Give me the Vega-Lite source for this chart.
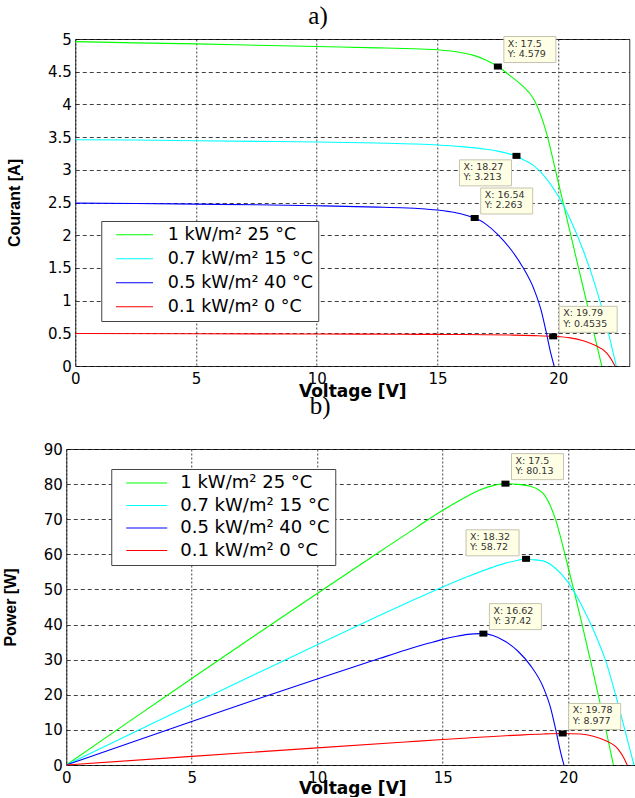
{
  "$schema": "https://vega.github.io/schema/vega-lite/v6.json",
  "background": "white",
  "padding": {"left": 1, "top": 3, "right": 0, "bottom": 0},
  "spacing": -7,
  "center": true,
  "resolve": {"scale": {"x": "independent", "y": "independent", "color": "independent"}, "legend": {"color": "independent"}},
  "datasets": {
    "iv": [
      {"S": "1 kW/m² 25 °C", "V": 0, "I": 4.96}, {"S": "1 kW/m² 25 °C", "V": 2.5, "I": 4.94}, {"S": "1 kW/m² 25 °C", "V": 5, "I": 4.925}, {"S": "1 kW/m² 25 °C", "V": 7.5, "I": 4.905}, {"S": "1 kW/m² 25 °C", "V": 10, "I": 4.885}, {"S": "1 kW/m² 25 °C", "V": 12.5, "I": 4.865}, {"S": "1 kW/m² 25 °C", "V": 14, "I": 4.85}, {"S": "1 kW/m² 25 °C", "V": 15, "I": 4.835}, {"S": "1 kW/m² 25 °C", "V": 16, "I": 4.79}, {"S": "1 kW/m² 25 °C", "V": 16.5, "I": 4.75}, {"S": "1 kW/m² 25 °C", "V": 17, "I": 4.68}, {"S": "1 kW/m² 25 °C", "V": 17.5, "I": 4.579}, {"S": "1 kW/m² 25 °C", "V": 18, "I": 4.44}, {"S": "1 kW/m² 25 °C", "V": 18.5, "I": 4.29}, {"S": "1 kW/m² 25 °C", "V": 19, "I": 4.07}, {"S": "1 kW/m² 25 °C", "V": 19.5, "I": 3.58}, {"S": "1 kW/m² 25 °C", "V": 19.9, "I": 2.97}, {"S": "1 kW/m² 25 °C", "V": 20.25, "I": 2.42}, {"S": "1 kW/m² 25 °C", "V": 20.5, "I": 2.03}, {"S": "1 kW/m² 25 °C", "V": 21, "I": 1.25}, {"S": "1 kW/m² 25 °C", "V": 21.5, "I": 0.47}, {"S": "1 kW/m² 25 °C", "V": 21.8, "I": 0},
      {"S": "0.7 kW/m² 15 °C", "V": 0, "I": 3.46}, {"S": "0.7 kW/m² 15 °C", "V": 2.5, "I": 3.455}, {"S": "0.7 kW/m² 15 °C", "V": 5, "I": 3.445}, {"S": "0.7 kW/m² 15 °C", "V": 7.5, "I": 3.435}, {"S": "0.7 kW/m² 15 °C", "V": 10, "I": 3.425}, {"S": "0.7 kW/m² 15 °C", "V": 12.5, "I": 3.41}, {"S": "0.7 kW/m² 15 °C", "V": 14, "I": 3.395}, {"S": "0.7 kW/m² 15 °C", "V": 15, "I": 3.38}, {"S": "0.7 kW/m² 15 °C", "V": 16, "I": 3.355}, {"S": "0.7 kW/m² 15 °C", "V": 17, "I": 3.315}, {"S": "0.7 kW/m² 15 °C", "V": 17.5, "I": 3.285}, {"S": "0.7 kW/m² 15 °C", "V": 18, "I": 3.24}, {"S": "0.7 kW/m² 15 °C", "V": 18.27, "I": 3.213}, {"S": "0.7 kW/m² 15 °C", "V": 18.32, "I": 3.205}, {"S": "0.7 kW/m² 15 °C", "V": 18.5, "I": 3.165}, {"S": "0.7 kW/m² 15 °C", "V": 19, "I": 3.06}, {"S": "0.7 kW/m² 15 °C", "V": 19.5, "I": 2.87}, {"S": "0.7 kW/m² 15 °C", "V": 20, "I": 2.6}, {"S": "0.7 kW/m² 15 °C", "V": 20.5, "I": 2.24}, {"S": "0.7 kW/m² 15 °C", "V": 21, "I": 1.8}, {"S": "0.7 kW/m² 15 °C", "V": 21.5, "I": 1.27}, {"S": "0.7 kW/m² 15 °C", "V": 22, "I": 0.62}, {"S": "0.7 kW/m² 15 °C", "V": 22.4, "I": 0},
      {"S": "0.5 kW/m² 40 °C", "V": 0, "I": 2.49}, {"S": "0.5 kW/m² 40 °C", "V": 2.5, "I": 2.485}, {"S": "0.5 kW/m² 40 °C", "V": 5, "I": 2.475}, {"S": "0.5 kW/m² 40 °C", "V": 7.5, "I": 2.465}, {"S": "0.5 kW/m² 40 °C", "V": 10, "I": 2.45}, {"S": "0.5 kW/m² 40 °C", "V": 12.5, "I": 2.43}, {"S": "0.5 kW/m² 40 °C", "V": 13.5, "I": 2.42}, {"S": "0.5 kW/m² 40 °C", "V": 14.5, "I": 2.4}, {"S": "0.5 kW/m² 40 °C", "V": 15, "I": 2.385}, {"S": "0.5 kW/m² 40 °C", "V": 15.5, "I": 2.36}, {"S": "0.5 kW/m² 40 °C", "V": 16, "I": 2.325}, {"S": "0.5 kW/m² 40 °C", "V": 16.54, "I": 2.262}, {"S": "0.5 kW/m² 40 °C", "V": 16.62, "I": 2.25}, {"S": "0.5 kW/m² 40 °C", "V": 17, "I": 2.17}, {"S": "0.5 kW/m² 40 °C", "V": 17.5, "I": 2.01}, {"S": "0.5 kW/m² 40 °C", "V": 18, "I": 1.8}, {"S": "0.5 kW/m² 40 °C", "V": 18.5, "I": 1.53}, {"S": "0.5 kW/m² 40 °C", "V": 19, "I": 1.17}, {"S": "0.5 kW/m² 40 °C", "V": 19.3, "I": 0.84}, {"S": "0.5 kW/m² 40 °C", "V": 19.5, "I": 0.52}, {"S": "0.5 kW/m² 40 °C", "V": 19.7, "I": 0.18}, {"S": "0.5 kW/m² 40 °C", "V": 19.83, "I": 0},
      {"S": "0.1 kW/m² 0 °C", "V": 0, "I": 0.497}, {"S": "0.1 kW/m² 0 °C", "V": 5, "I": 0.494}, {"S": "0.1 kW/m² 0 °C", "V": 10, "I": 0.489}, {"S": "0.1 kW/m² 0 °C", "V": 13.5, "I": 0.485}, {"S": "0.1 kW/m² 0 °C", "V": 15, "I": 0.483}, {"S": "0.1 kW/m² 0 °C", "V": 16, "I": 0.481}, {"S": "0.1 kW/m² 0 °C", "V": 17, "I": 0.478}, {"S": "0.1 kW/m² 0 °C", "V": 18, "I": 0.473}, {"S": "0.1 kW/m² 0 °C", "V": 19, "I": 0.465}, {"S": "0.1 kW/m² 0 °C", "V": 19.79, "I": 0.4535}, {"S": "0.1 kW/m² 0 °C", "V": 20.5, "I": 0.43}, {"S": "0.1 kW/m² 0 °C", "V": 21, "I": 0.39}, {"S": "0.1 kW/m² 0 °C", "V": 21.5, "I": 0.32}, {"S": "0.1 kW/m² 0 °C", "V": 22, "I": 0.2}, {"S": "0.1 kW/m² 0 °C", "V": 22.2, "I": 0.1}, {"S": "0.1 kW/m² 0 °C", "V": 22.35, "I": 0}
    ],
    "pv": [
      {"S": "1 kW/m² 25 °C", "V": 0, "P": 0}, {"S": "1 kW/m² 25 °C", "V": 2.5, "P": 12.35}, {"S": "1 kW/m² 25 °C", "V": 5, "P": 24.63}, {"S": "1 kW/m² 25 °C", "V": 7.5, "P": 36.79}, {"S": "1 kW/m² 25 °C", "V": 10, "P": 48.85}, {"S": "1 kW/m² 25 °C", "V": 12.5, "P": 60.81}, {"S": "1 kW/m² 25 °C", "V": 14, "P": 67.9}, {"S": "1 kW/m² 25 °C", "V": 15, "P": 72.53}, {"S": "1 kW/m² 25 °C", "V": 16, "P": 76.64}, {"S": "1 kW/m² 25 °C", "V": 16.5, "P": 78.38}, {"S": "1 kW/m² 25 °C", "V": 17, "P": 79.56}, {"S": "1 kW/m² 25 °C", "V": 17.5, "P": 80.13}, {"S": "1 kW/m² 25 °C", "V": 18, "P": 79.92}, {"S": "1 kW/m² 25 °C", "V": 18.5, "P": 79.37}, {"S": "1 kW/m² 25 °C", "V": 19, "P": 77.33}, {"S": "1 kW/m² 25 °C", "V": 19.5, "P": 69.81}, {"S": "1 kW/m² 25 °C", "V": 19.9, "P": 59.1}, {"S": "1 kW/m² 25 °C", "V": 20.25, "P": 49.01}, {"S": "1 kW/m² 25 °C", "V": 20.5, "P": 41.62}, {"S": "1 kW/m² 25 °C", "V": 21, "P": 26.25}, {"S": "1 kW/m² 25 °C", "V": 21.5, "P": 10.11}, {"S": "1 kW/m² 25 °C", "V": 21.8, "P": 0},
      {"S": "0.7 kW/m² 15 °C", "V": 0, "P": 0}, {"S": "0.7 kW/m² 15 °C", "V": 2.5, "P": 8.64}, {"S": "0.7 kW/m² 15 °C", "V": 5, "P": 17.23}, {"S": "0.7 kW/m² 15 °C", "V": 7.5, "P": 25.76}, {"S": "0.7 kW/m² 15 °C", "V": 10, "P": 34.25}, {"S": "0.7 kW/m² 15 °C", "V": 12.5, "P": 42.63}, {"S": "0.7 kW/m² 15 °C", "V": 14, "P": 47.53}, {"S": "0.7 kW/m² 15 °C", "V": 15, "P": 50.7}, {"S": "0.7 kW/m² 15 °C", "V": 16, "P": 53.68}, {"S": "0.7 kW/m² 15 °C", "V": 17, "P": 56.36}, {"S": "0.7 kW/m² 15 °C", "V": 17.5, "P": 57.49}, {"S": "0.7 kW/m² 15 °C", "V": 18, "P": 58.32}, {"S": "0.7 kW/m² 15 °C", "V": 18.27, "P": 58.7}, {"S": "0.7 kW/m² 15 °C", "V": 18.32, "P": 58.72}, {"S": "0.7 kW/m² 15 °C", "V": 18.5, "P": 58.55}, {"S": "0.7 kW/m² 15 °C", "V": 19, "P": 58.14}, {"S": "0.7 kW/m² 15 °C", "V": 19.5, "P": 55.97}, {"S": "0.7 kW/m² 15 °C", "V": 20, "P": 52.0}, {"S": "0.7 kW/m² 15 °C", "V": 20.5, "P": 45.92}, {"S": "0.7 kW/m² 15 °C", "V": 21, "P": 38.5}, {"S": "0.7 kW/m² 15 °C", "V": 21.5, "P": 29.5}, {"S": "0.7 kW/m² 15 °C", "V": 22, "P": 17.0}, {"S": "0.7 kW/m² 15 °C", "V": 22.4, "P": 6.0}, {"S": "0.7 kW/m² 15 °C", "V": 22.62, "P": 0},
      {"S": "0.5 kW/m² 40 °C", "V": 0, "P": 0}, {"S": "0.5 kW/m² 40 °C", "V": 2.5, "P": 6.21}, {"S": "0.5 kW/m² 40 °C", "V": 5, "P": 12.38}, {"S": "0.5 kW/m² 40 °C", "V": 7.5, "P": 18.49}, {"S": "0.5 kW/m² 40 °C", "V": 10, "P": 24.5}, {"S": "0.5 kW/m² 40 °C", "V": 12.5, "P": 30.38}, {"S": "0.5 kW/m² 40 °C", "V": 13.5, "P": 32.67}, {"S": "0.5 kW/m² 40 °C", "V": 14.5, "P": 34.8}, {"S": "0.5 kW/m² 40 °C", "V": 15, "P": 35.78}, {"S": "0.5 kW/m² 40 °C", "V": 15.5, "P": 36.58}, {"S": "0.5 kW/m² 40 °C", "V": 16, "P": 37.2}, {"S": "0.5 kW/m² 40 °C", "V": 16.54, "P": 37.41}, {"S": "0.5 kW/m² 40 °C", "V": 16.62, "P": 37.42}, {"S": "0.5 kW/m² 40 °C", "V": 17, "P": 36.89}, {"S": "0.5 kW/m² 40 °C", "V": 17.5, "P": 35.18}, {"S": "0.5 kW/m² 40 °C", "V": 18, "P": 32.4}, {"S": "0.5 kW/m² 40 °C", "V": 18.5, "P": 28.31}, {"S": "0.5 kW/m² 40 °C", "V": 19, "P": 22.23}, {"S": "0.5 kW/m² 40 °C", "V": 19.3, "P": 16.21}, {"S": "0.5 kW/m² 40 °C", "V": 19.5, "P": 10.14}, {"S": "0.5 kW/m² 40 °C", "V": 19.7, "P": 3.55}, {"S": "0.5 kW/m² 40 °C", "V": 19.83, "P": 0},
      {"S": "0.1 kW/m² 0 °C", "V": 0, "P": 0}, {"S": "0.1 kW/m² 0 °C", "V": 5, "P": 2.47}, {"S": "0.1 kW/m² 0 °C", "V": 10, "P": 4.89}, {"S": "0.1 kW/m² 0 °C", "V": 13.5, "P": 6.55}, {"S": "0.1 kW/m² 0 °C", "V": 15, "P": 7.25}, {"S": "0.1 kW/m² 0 °C", "V": 16, "P": 7.7}, {"S": "0.1 kW/m² 0 °C", "V": 17, "P": 8.13}, {"S": "0.1 kW/m² 0 °C", "V": 18, "P": 8.51}, {"S": "0.1 kW/m² 0 °C", "V": 19, "P": 8.84}, {"S": "0.1 kW/m² 0 °C", "V": 19.78, "P": 8.977}, {"S": "0.1 kW/m² 0 °C", "V": 20.5, "P": 8.82}, {"S": "0.1 kW/m² 0 °C", "V": 21, "P": 8.19}, {"S": "0.1 kW/m² 0 °C", "V": 21.5, "P": 6.88}, {"S": "0.1 kW/m² 0 °C", "V": 22, "P": 4.4}, {"S": "0.1 kW/m² 0 °C", "V": 22.2, "P": 2.22}, {"S": "0.1 kW/m² 0 °C", "V": 22.35, "P": 0}
    ],
    "ta": [{"V": 17.5, "I": 4.579}, {"V": 18.27, "I": 3.213}, {"V": 16.54, "I": 2.263}, {"V": 19.79, "I": 0.4535}],
    "tb": [{"V": 17.5, "P": 80.13}, {"V": 18.32, "P": 58.72}, {"V": 16.62, "P": 37.42}, {"V": 19.78, "P": 8.977}]
  },
  "vconcat": [
    {
      "width": 554,
      "height": 327,
      "title": {"text": "a)", "offset": 3},
      "encoding": {
        "x": {"field": "V", "type": "quantitative", "scale": {"domain": [0, 22.94], "nice": false, "zero": false},
              "axis": {"values": [0, 5, 10, 15, 20], "format": "d", "title": "Voltage [V]", "titlePadding": -3}},
        "y": {"field": "I", "type": "quantitative", "scale": {"domain": [0, 5], "nice": false},
              "axis": {"values": [0, 0.5, 1, 1.5, 2, 2.5, 3, 3.5, 4, 4.5, 5], "format": "~g", "title": "Courant [A]", "titlePadding": 24.5}}
      },
      "layer": [
        {
          "data": {"name": "iv"},
          "mark": {"type": "line", "strokeWidth": 1.1, "interpolate": "monotone"},
          "encoding": {
            "color": {"field": "S", "type": "nominal",
                      "scale": {"domain": ["1 kW/m² 25 °C", "0.7 kW/m² 15 °C", "0.5 kW/m² 40 °C", "0.1 kW/m² 0 °C"], "range": ["#00ff00", "#00ffff", "#0000ff", "#ff0000"]},
                      "legend": {"orient": "none", "legendX": 26, "legendY": 182, "title": null, "fillColor": "white", "strokeColor": "#444", "padding": 5, "symbolType": "M0.5,0H19", "symbolSize": 16, "symbolStrokeWidth": 1.2, "labelFont": "DejaVu Sans", "labelFontSize": 17.5, "labelColor": "#000", "labelOffset": 44, "rowPadding": 5, "labelLimit": 400}}
          }
        },
        {
          "data": {"name": "ta"},
          "transform": [{"filter": "datum.V == 17.5 || datum.V == 16.54"}],
          "mark": {"type": "point", "shape": "M6,-4H58V-30H6Z", "size": 4, "filled": true, "fill": "#ffffe6", "stroke": "#c4c4b0", "strokeWidth": 1, "opacity": 1}
        },
        {
          "data": {"name": "ta"},
          "transform": [{"filter": "datum.V == 19.79"}],
          "mark": {"type": "point", "shape": "M6,-4H64V-30H6Z", "size": 4, "filled": true, "fill": "#ffffe6", "stroke": "#c4c4b0", "strokeWidth": 1, "opacity": 1}
        },
        {
          "data": {"name": "ta"},
          "transform": [{"filter": "datum.V == 18.27"}],
          "mark": {"type": "point", "shape": "M-57,4H-5V30H-57Z", "size": 4, "filled": true, "fill": "#ffffe6", "stroke": "#c4c4b0", "strokeWidth": 1, "opacity": 1}
        },
        {
          "data": {"name": "ta"},
          "transform": [{"filter": "datum.V != 18.27"}, {"calculate": "['X: ' + datum.V, 'Y: ' + datum.I]", "as": "lbl"}],
          "mark": {"type": "text", "align": "left", "baseline": "top", "dx": 10, "dy": -28, "font": "DejaVu Sans", "fontSize": 9.5, "lineHeight": 10.5, "color": "#333"},
          "encoding": {"text": {"field": "lbl"}}
        },
        {
          "data": {"name": "ta"},
          "transform": [{"filter": "datum.V == 18.27"}, {"calculate": "['X: ' + datum.V, 'Y: ' + datum.I]", "as": "lbl"}],
          "mark": {"type": "text", "align": "left", "baseline": "top", "dx": -53, "dy": 6, "font": "DejaVu Sans", "fontSize": 9.5, "lineHeight": 10.5, "color": "#333"},
          "encoding": {"text": {"field": "lbl"}}
        },
        {
          "data": {"name": "ta"},
          "mark": {"type": "point", "shape": "M-4,-3H4V3H-4Z", "size": 4, "filled": true, "fill": "#000", "stroke": null, "opacity": 1}
        }
      ]
    },
    {
      "width": 572,
      "height": 316,
      "title": {"text": "b)", "offset": 23},
      "encoding": {
        "x": {"field": "V", "type": "quantitative", "scale": {"domain": [0, 22.79], "nice": false, "zero": false},
              "axis": {"values": [0, 5, 10, 15, 20], "format": "d", "title": "Voltage [V]", "titlePadding": -5}},
        "y": {"field": "P", "type": "quantitative", "scale": {"domain": [0, 90], "nice": false},
              "axis": {"values": [0, 10, 20, 30, 40, 50, 60, 70, 80, 90], "format": "d", "title": "Power [W]", "titlePadding": 25}}
      },
      "layer": [
        {
          "data": {"name": "pv"},
          "mark": {"type": "line", "strokeWidth": 1.1, "interpolate": "monotone"},
          "encoding": {
            "color": {"field": "S", "type": "nominal",
                      "scale": {"domain": ["1 kW/m² 25 °C", "0.7 kW/m² 15 °C", "0.5 kW/m² 40 °C", "0.1 kW/m² 0 °C"], "range": ["#00ff00", "#00ffff", "#0000ff", "#ff0000"]},
                      "legend": {"orient": "none", "legendX": 45, "legendY": 20, "title": null, "fillColor": "white", "strokeColor": "#444", "padding": 5, "symbolType": "M0.5,0H21", "symbolSize": 16, "symbolStrokeWidth": 1.2, "labelFont": "DejaVu Sans", "labelFontSize": 18, "labelColor": "#000", "labelOffset": 46, "rowPadding": 4.5, "labelLimit": 400}}
          }
        },
        {
          "data": {"name": "tb"},
          "transform": [{"filter": "datum.V != 18.32"}],
          "mark": {"type": "point", "shape": "M6,-4H58V-30H6Z", "size": 4, "filled": true, "fill": "#ffffe6", "stroke": "#c4c4b0", "strokeWidth": 1, "opacity": 1}
        },
        {
          "data": {"name": "tb"},
          "transform": [{"filter": "datum.V == 18.32"}],
          "mark": {"type": "point", "shape": "M-60,-3H-7V-29H-60Z", "size": 4, "filled": true, "fill": "#ffffe6", "stroke": "#c4c4b0", "strokeWidth": 1, "opacity": 1}
        },
        {
          "data": {"name": "tb"},
          "transform": [{"filter": "datum.V != 18.32"}, {"calculate": "['X: ' + datum.V, 'Y: ' + datum.P]", "as": "lbl"}],
          "mark": {"type": "text", "align": "left", "baseline": "top", "dx": 10, "dy": -28, "font": "DejaVu Sans", "fontSize": 9.5, "lineHeight": 10.5, "color": "#333"},
          "encoding": {"text": {"field": "lbl"}}
        },
        {
          "data": {"name": "tb"},
          "transform": [{"filter": "datum.V == 18.32"}, {"calculate": "['X: ' + datum.V, 'Y: ' + datum.P]", "as": "lbl"}],
          "mark": {"type": "text", "align": "left", "baseline": "top", "dx": -56, "dy": -27, "font": "DejaVu Sans", "fontSize": 9.5, "lineHeight": 10.5, "color": "#333"},
          "encoding": {"text": {"field": "lbl"}}
        },
        {
          "data": {"name": "tb"},
          "mark": {"type": "point", "shape": "M-4,-3H4V3H-4Z", "size": 4, "filled": true, "fill": "#000", "stroke": null, "opacity": 1}
        }
      ]
    }
  ],
  "config": {
    "view": {"stroke": "#333", "strokeWidth": 1},
    "axis": {"grid": true, "gridColor": "#000", "gridOpacity": 0.75, "gridWidth": 1, "ticks": false, "domain": false, "labelFont": "DejaVu Sans", "labelFontSize": 15, "labelColor": "#000", "labelFlush": false, "labelOverlap": false, "titleColor": "#000", "titleFontWeight": "bold"},
    "axisX": {"gridDash": [2, 2], "labelPadding": 5, "titleFont": "DejaVu Sans", "titleFontSize": 17},
    "axisY": {"gridDash": [4, 3], "labelPadding": 4, "titleFont": "Liberation Sans", "titleFontSize": 16},
    "title": {"font": "Liberation Serif", "fontSize": 25, "fontWeight": "normal", "color": "#000", "frame": "bounds", "anchor": "middle"}
  }
}
